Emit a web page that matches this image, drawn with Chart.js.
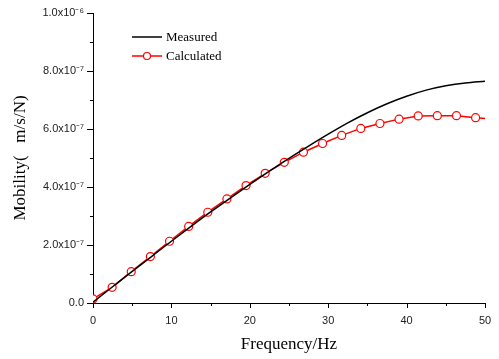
<!DOCTYPE html>
<html>
<head>
<meta charset="utf-8">
<script src="https://cdn.jsdelivr.net/npm/chart.js@4"></script>
<style>
  html, body { margin: 0; padding: 0; background: #fff; }
  #wrap { width: 499px; height: 359px; position: relative; }
</style>
</head>
<body>
<div id="wrap"><canvas id="c" width="499" height="359"></canvas></div>
<script>
// Measured curve (black)
const measFreq = [0, 2.5, 5, 7.5, 10, 12.5, 15, 17.5, 20, 22.5, 25, 27.5, 30, 32.5, 35, 37.5, 40, 42.5, 45, 47.5, 50];
const measValues = [0.03e-7, 0.56e-7, 1.09e-7, 1.61e-7, 2.13e-7, 2.64e-7, 3.14e-7, 3.62e-7, 4.09e-7, 4.55e-7, 4.99e-7, 5.41e-7, 5.82e-7, 6.21e-7, 6.56e-7, 6.87e-7, 7.13e-7, 7.34e-7, 7.49e-7, 7.59e-7, 7.65e-7];

// Calculated curve (red with markers)
const calcFreq = [0, 2.44, 4.88, 7.32, 9.76, 12.2, 14.64, 17.08, 19.52, 21.96, 24.4, 26.84, 29.28, 31.72, 34.16, 36.6, 39.04, 41.48, 43.92, 46.36, 48.8, 50];
const calcValues = [0.14e-7, 0.54e-7, 1.08e-7, 1.60e-7, 2.13e-7, 2.64e-7, 3.13e-7, 3.59e-7, 4.05e-7, 4.47e-7, 4.85e-7, 5.20e-7, 5.50e-7, 5.78e-7, 6.02e-7, 6.19e-7, 6.34e-7, 6.45e-7, 6.46e-7, 6.46e-7, 6.39e-7, 6.36e-7];
const calcMarkers = [1, 1, 1, 1, 1, 1, 1, 1, 1, 1, 1, 1, 1, 1, 1, 1, 1, 1, 1, 1, 1, 0];

const seriesNames = ['Measured', 'Calculated'];
const xTitle = 'Frequency/Hz';
const yTitle = 'Mobility(   m/s/N)';
const xTickValues = [0, 10, 20, 30, 40, 50];
const yTickLabels = ['0.0', '2.0x10\u207B\u2077', '4.0x10\u207B\u2077', '6.0x10\u207B\u2077', '8.0x10\u207B\u2077', '1.0x10\u207B\u2076'];

const measData = measFreq.map((f, i) => ({ x: f, y: measValues[i] }));
const calcData = calcFreq.map((f, i) => ({ x: f, y: calcValues[i] }));

const tickPlugin = {
  id: 'minorTicks',
  afterDraw(chart) {
    const ctx = chart.ctx;
    const xs = chart.scales.x, ys = chart.scales.y;
    ctx.save();
    ctx.strokeStyle = '#000';
    ctx.lineWidth = 1;
    ctx.beginPath();
    for (let k = 0; k <= 10; k++) {
      const py = Math.round(ys.getPixelForValue(k * 1e-7)) + 0.5;
      const len = (k % 2 === 0) ? 6 : 3;
      ctx.moveTo(xs.left - len, py);
      ctx.lineTo(xs.left, py);
    }
    for (let k = 0; k <= 10; k++) {
      const px = Math.round(xs.getPixelForValue(k * 5)) + 0.5;
      const len = (k % 2 === 0) ? 5 : 3;
      ctx.moveTo(px, ys.bottom);
      ctx.lineTo(px, ys.bottom + len);
    }
    ctx.stroke();

    // legend
    const lx0 = 132, lx1 = 162, tx = 166;
    const rows = [{ y: 37, color: '#000', marker: false, name: seriesNames[0] },
                  { y: 56, color: '#ff0000', marker: true, name: seriesNames[1] }];
    ctx.font = '13px "Liberation Serif", "Times New Roman", serif';
    ctx.textBaseline = 'middle';
    ctx.textAlign = 'left';
    rows.forEach(r => {
      ctx.beginPath();
      ctx.strokeStyle = r.color;
      ctx.lineWidth = 1.5;
      ctx.moveTo(lx0, r.y);
      ctx.lineTo(lx1, r.y);
      ctx.stroke();
      if (r.marker) {
        ctx.beginPath();
        ctx.fillStyle = '#fff';
        ctx.lineWidth = 1.2;
        ctx.arc((lx0 + lx1) / 2, r.y, 3.5, 0, Math.PI * 2);
        ctx.fill();
        ctx.stroke();
      }
      ctx.fillStyle = '#000';
      ctx.fillText(r.name, tx, r.y + 1);
    });
    ctx.restore();
  }
};

new Chart(document.getElementById('c'), {
  type: 'line',
  data: {
    datasets: [
      {
        label: seriesNames[0],
        data: measData,
        borderColor: '#000',
        borderWidth: 1.5,
        pointRadius: 0,
        cubicInterpolationMode: 'monotone',
        fill: false
      },
      {
        label: seriesNames[1],
        data: calcData,
        borderColor: '#ff0000',
        backgroundColor: '#fff',
        borderWidth: 1.5,
        pointRadius: calcMarkers.map(m => m ? 4 : 0),
        pointBorderWidth: 1.2,
        pointBorderColor: '#ff0000',
        pointBackgroundColor: '#fff',
        tension: 0,
        fill: false
      }
    ]
  },
  options: {
    responsive: false,
    animation: false,
    events: [],
    layout: { padding: { left: 0, top: 13, right: 14, bottom: 0 } },
    plugins: { legend: { display: false }, tooltip: { enabled: false } },
    scales: {
      x: {
        type: 'linear',
        min: 0, max: 50,
        afterFit(s) { s.height = 56; },
        grid: { display: false, drawTicks: true, tickLength: 5 },
        border: { display: true, color: '#000', width: 1 },
        afterBuildTicks(s) { s.ticks = xTickValues.map(v => ({ value: v })); },
        ticks: {
          autoSkip: false,
          maxRotation: 0,
          padding: 6,
          color: '#222',
          font: { family: '"Liberation Sans", Arial, sans-serif', size: 11 },
          callback: v => String(v)
        },
        title: {
          display: true,
          text: xTitle,
          color: '#000',
          font: { family: '"Liberation Serif", "Times New Roman", serif', size: 17 },
          padding: { top: 4, bottom: 4 }
        }
      },
      y: {
        type: 'linear',
        min: 0, max: 1e-6,
        afterFit(s) { s.width = 93; },
        grid: { display: false, drawTicks: true, tickLength: 6 },
        border: { display: true, color: '#000', width: 1 },
        afterBuildTicks(s) { s.ticks = yTickLabels.map((t, i) => ({ value: i * 2e-7 })); },
        ticks: {
          autoSkip: false,
          padding: 3,
          color: '#222',
          font: { family: '"Liberation Sans", Arial, sans-serif', size: 11 },
          callback: (v) => yTickLabels[Math.round(v / 2e-7)]
        },
        title: {
          display: true,
          text: yTitle,
          color: '#000',
          font: { family: '"Liberation Serif", "Times New Roman", serif', size: 17 },
          padding: { top: 10, bottom: 0 }
        }
      }
    }
  },
  plugins: [tickPlugin]
});
</script>
</body>
</html>
